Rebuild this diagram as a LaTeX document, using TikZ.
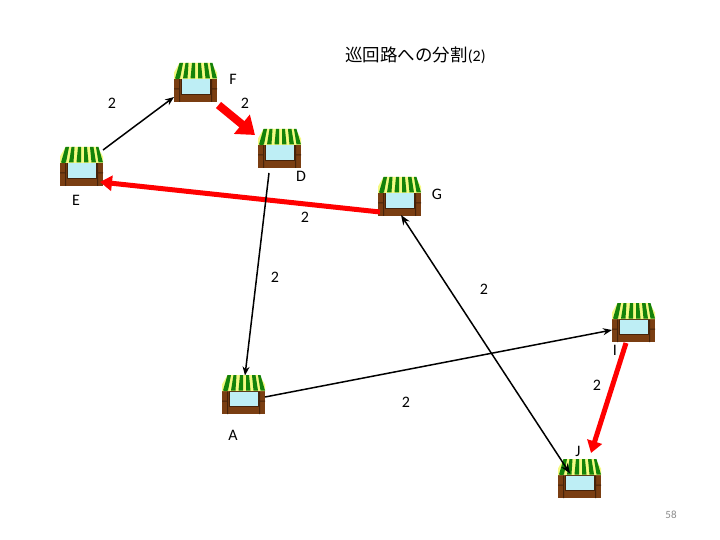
\documentclass[tikz,border=0pt]{standalone}
\usepackage{fontspec}
\setmainfont{Carlito}
\newfontfamily\cjkjp{Noto Sans CJK JP}
\usetikzlibrary{arrows.meta}
\definecolor{brickbrown}{RGB}{122,62,18}
\definecolor{darkbrown}{RGB}{70,35,10}
\definecolor{glasscol}{RGB}{190,238,245}
\definecolor{roofgreen}{RGB}{20,130,10}
\definecolor{roofyellow}{RGB}{245,250,130}
\definecolor{pagegray}{RGB}{140,140,140}
\tikzset{
  x=1pt,y=-1pt,
  shopnode/.style={minimum width=43pt,minimum height=39pt,inner sep=0pt,outer sep=0pt},
  lab/.style={font=\fontsize{16}{16}\selectfont,text=black,inner sep=0pt},
  thinarrow/.style={draw=black,line width=1.5pt,-{Stealth[length=9pt,width=7pt]}},
  bothways/.style={draw=black,line width=1.5pt,{Stealth[length=10pt,width=7.5pt]}-{Stealth[length=10pt,width=7.5pt]}},
  redarrow/.style={draw=red,line width=#1},
  shopicon/.pic={
    % body
    \fill[brickbrown] (-21.5,-5) rectangle (21.5,19.5);
    \fill[darkbrown] (-21.5,6) rectangle (-16,7) (16,6) rectangle (21.5,7);
    \fill[darkbrown] (-16.5,-5) rectangle (-15.5,19.5) (15.5,-5) rectangle (16.5,19.5);
    \fill[darkbrown] (-15,-4) rectangle (15,12.5);
    \fill[glasscol] (-14,-3) rectangle (14,11.5);
    % awning
    \fill[roofyellow] (-21.5,-3.5) -- (-21.5,-10) -- (-16,-19.5) -- (16,-19.5) -- (21.5,-10) -- (21.5,-3.5) -- cycle;
    \foreach \a/\b/\c/\d in {-20.5/-15.5/-16/-12.5, -12.5/-8/-10/-7, -5/-0.5/-3.5/-0.5, 2.5/7/2.5/5.5, 10/14.5/8.5/12, 17/21.5/14.5/17}{
      \fill[roofgreen] (\a,-4) to[bend right=25] (\b,-4) -- (\d,-19.5) -- (\c,-19.5) -- cycle;
    }
  }
}
\begin{document}
\begin{tikzpicture}
\useasboundingbox (0,0) rectangle (720,540);
\fill[white] (0,0) rectangle (720,540);
% shops
\node[shopnode] (F) at (195.5,82.5) {};
\node[shopnode] (D) at (279.5,148.5) {};
\node[shopnode] (E) at (81.5,166.5) {};
\node[shopnode] (G) at (399.5,196.5) {};
\node[shopnode] (I) at (633.5,322.5) {};
\node[shopnode] (J) at (579.5,478.5) {};
\node[shopnode] (A) at (243.5,394.5) {};
\foreach \n in {F,D,E,G,I,J,A}{ \pic at (\n.center) {shopicon}; }
% connectors
\draw[thinarrow] ([shift={(21.5,-16.5)}]E.center) -- ([shift={(-21.5,14.5)}]F.center);
\draw[redarrow=8pt,-{Triangle[length=17pt,width=24pt]}] ([shift={(23,22.5)}]F.center) -- ([shift={(-24.5,-13.5)}]D.center);
\draw[redarrow=5pt,-{Triangle[length=12pt,width=15pt]}] ([shift={(-19.5,15.5)}]G.center) -- ([shift={(18.5,15.5)}]E.center);
\draw[thinarrow] ([shift={(-10.5,24.5)}]D.center) -- ([shift={(1.5,-19)}]A.center);
\draw[thinarrow] ([shift={(21.5,2.5)}]A.center) -- ([shift={(-21.5,7.5)}]I.center);
\draw[bothways] ([shift={(1.5,18.5)}]G.center) -- ([shift={(-9.5,-5)}]J.center);
\draw[redarrow=5pt,-{Triangle[length=12pt,width=15pt]}] ([shift={(-7.5,20.5)}]I.center) -- ([shift={(11.5,-25.5)}]J.center);
% labels
\node[lab] (tt) at (415.5,55) {{\cjkjp\fontsize{17.5}{17.5}\selectfont 巡回路への分割}(2)};
\node[lab] (lF) at (233,79) {F};
\node[lab] (lD) at (301,176) {D};
\node[lab] (lE) at (76,200) {E};
\node[lab] (lG) at (437,194) {G};
\node[lab] (lI) at (615,350) {I};
\node[lab] (lJ) at (578,451) {J};
\node[lab] (lA) at (233,435) {A};
\node[lab] (w1) at (112,103) {2};
\node[lab] (w2) at (245,103) {2};
\node[lab] (w3) at (305,217) {2};
\node[lab] (w4) at (275,277) {2};
\node[lab] (w5) at (484,289) {2};
\node[lab] (w6) at (597,385) {2};
\node[lab] (w7) at (406,402) {2};
\node[font=\fontsize{11}{11}\selectfont,text=pagegray,inner sep=0pt] (pg) at (671,515) {58};
\end{tikzpicture}
\end{document}
